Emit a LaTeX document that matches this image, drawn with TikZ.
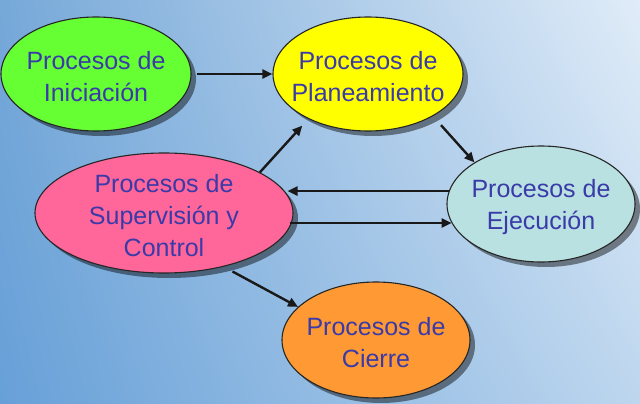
\documentclass[tikz,border=0pt]{standalone}
\usepackage{fontspec}
\setmainfont{Liberation Sans}
\usetikzlibrary{shapes.geometric,arrows.meta,shadows,shadings}
\definecolor{txt}{RGB}{58,58,168}
\definecolor{iniF}{RGB}{102,255,51}
\definecolor{planF}{RGB}{255,255,0}
\definecolor{ejeF}{RGB}{185,225,225}
\definecolor{supF}{RGB}{255,102,153}
\definecolor{cieF}{RGB}{255,153,51}
\definecolor{bgUL}{RGB}{118,168,216}
\definecolor{bgLL}{RGB}{103,160,216}
\definecolor{bgUR}{RGB}{224,236,248}
\definecolor{bgLR}{RGB}{189,214,238}
\begin{document}
\begin{tikzpicture}[x=1pt,y=-1pt,
  proc/.style={ellipse, draw=black!85, line width=1.1pt, inner sep=0pt,
    drop shadow={shadow xshift=5pt, shadow yshift=-5pt, fill=black, opacity=0.45}},
  lbl/.style={text=txt, align=center, inner sep=0pt, font=\fontsize{25}{32}\selectfont},
  arr/.style={line width=2.4pt, draw=black!90, -{Triangle[length=10pt,width=9pt]}}]
\useasboundingbox (0,0) rectangle (640,404);
\shade[lower left=bgLL, upper left=bgUL, upper right=bgUR, lower right=bgLR] (0,0) rectangle (640,404);

\node[proc, fill=iniF, minimum width=190pt, minimum height=114pt] (ini) at (96,74) {};
\node[proc, fill=planF, minimum width=190pt, minimum height=114pt] (plan) at (368,74) {};
\node[proc, fill=ejeF, minimum width=188pt, minimum height=116pt] (eje) at (541,204) {};
\node[proc, fill=supF, minimum width=258pt, minimum height=120pt] (sup) at (164,213) {};
\node[proc, fill=cieF, minimum width=188pt, minimum height=116pt] (cie) at (376,340) {};

\node[lbl] (iniT) at ([yshift=-3pt]ini.center) {Procesos de\\Iniciación};
\node[lbl] (planT) at ([yshift=-3pt]plan.center) {Procesos de\\Planeamiento};
\node[lbl] (ejeT) at ([yshift=-3pt]eje.center) {Procesos de\\Ejecución};
\node[lbl] (supT) at ([yshift=-3pt]sup.center) {Procesos de\\Supervisión y\\Control};
\node[lbl] (cieT) at ([yshift=-3pt]cie.center) {Procesos de\\Cierre};

\draw[arr, shorten <=5pt] (ini.east) -- (plan.west);
\draw[arr, shorten >=9pt] (sup.23.6) -- (plan.217.1);
\draw[arr, shorten <=12pt] (plan.-33.5) -- (eje.148);
\draw[arr, shorten >=-6pt] (eje.172.6) -- (eje.172.6 -| sup.east);
\draw[arr, shorten <=-4pt] (sup.east |- eje.192.1) -- (eje.192.1);
\draw[arr, shorten <=10pt] (sup.-42) -- (cie.157.6);
\end{tikzpicture}
\end{document}
